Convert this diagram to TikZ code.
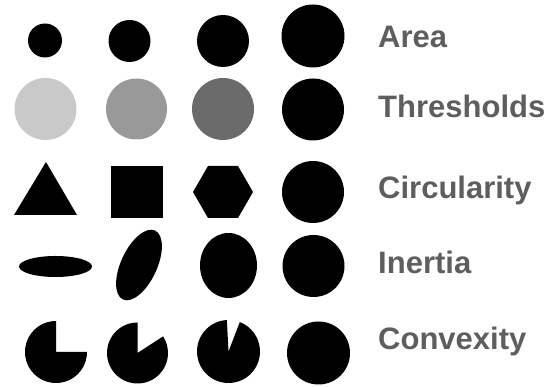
\documentclass[tikz,border=0pt]{standalone}
\usepackage{fontspec}
\setsansfont{Liberation Sans}
\usepackage{xcolor}
\definecolor{blobink}{HTML}{000000}
\definecolor{thrlight}{HTML}{C9C9C9}
\definecolor{thrmid}{HTML}{999999}
\definecolor{thrdark}{HTML}{6B6B6B}
\definecolor{lblgray}{HTML}{5E5E5E}

\begin{document}
\begin{tikzpicture}[x=1pt, y=1pt,
  blob/.style={fill=blobink},
  lbl/.style={anchor=base west, inner sep=0pt, text=lblgray, font=\fontsize{31}{31}\selectfont\sffamily\bfseries}]

\useasboundingbox (0,0) rectangle (548,387);

% area
\fill[blob] (45,346.5) circle (17);
\fill[blob] (129.5,346) circle (21);
\fill[blob] (223,346) circle (26);
\fill[blob] (313,351) circle (31.5);

% thresholds
\fill[thrlight] (45.5,278) circle (31);
\fill[thrmid] (136.5,278) circle (30.5);
\fill[thrdark] (223,278) circle (31);
\fill[blob] (313,277.5) circle (31);

% circularity
\fill[blob] (14,172) -- (77,172) -- (46,225) -- cycle;
\fill[blob] (111,169) rectangle (163,221);
\fill[blob] (253,195) -- (238,221) -- (208,221) -- (193,195) -- (208,169) -- (238,169) -- cycle;
\fill[blob] (313,195) circle (31);

% inertia
\fill[blob] (55.5,120.5) ellipse [x radius=36.5, y radius=10.5];
\fill[blob, rotate around={65:(139,122)}] (139,122) ellipse [x radius=38, y radius=18];
\fill[blob] (228.5,121.5) ellipse [x radius=28.5, y radius=32.5];
\fill[blob] (313.5,121) circle (31);

% convexity
\fill[blob] (56,35) -- ++(90:31) arc [start angle=90, end angle=360, radius=31] -- cycle;
\fill[blob] (137.5,34) -- ++(90:30.5) arc [start angle=90, end angle=393, radius=30.5] -- cycle;
\fill[blob] (228.5,35.5) -- ++(93:31.5) arc [start angle=93, end angle=429, radius=31.5] -- cycle;
\fill[blob] (318.5,34) circle (31.5);

\node[lbl] (area) at (378,339) {Area};
\node[lbl] (thresholds) at (378,269) {Thresholds};
\node[lbl] (circularity) at (378,188) {Circularity};
\node[lbl] (inertia) at (378,113) {Inertia};
\node[lbl] (convexity) at (378,37) {Convexity};
\end{tikzpicture}
\end{document}
